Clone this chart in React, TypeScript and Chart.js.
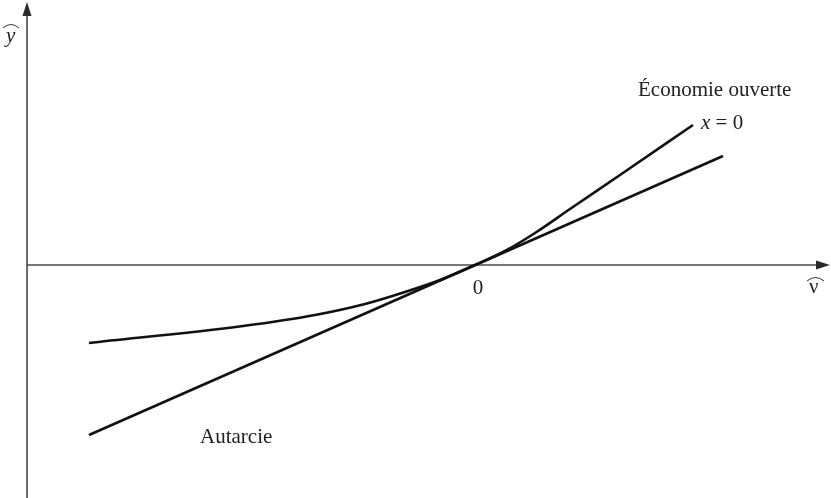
import React, { useEffect, useRef } from "react";
import { Chart, registerables } from "chart.js";

Chart.register(...registerables);

// Data in diagram units (origin at the intersection "0")
const autarcieX = [-386, 248];
const autarcieY = [-170, 109];

const ouverteX = [-386, -232, -160, -110, -70, -35, 0, 30, 60, 95, 145, 218];
const ouverteY = [-78, -61, -50, -39, -27, -15, 0, 14, 32, 56, 90, 140];

const xMin = -475;
const xMax = 356;
const yMin = -233;
const yMax = 265;
const yAxisAtX = -448;

const labelOuverte = "Économie ouverte";
const labelCurve = "x = 0";
const labelAutarcie = "Autarcie";
const labelOrigin = "0";

const W = 831;
const H = 498;

const axesPlugin = {
  id: "axesPlugin",
  beforeDatasetsDraw(chart: any) {
    const ctx = chart.ctx;
    const xs = chart.scales.x;
    const ys = chart.scales.y;
    const ax = xs.getPixelForValue(yAxisAtX);
    const ay = ys.getPixelForValue(0);
    ctx.save();
    ctx.strokeStyle = "#4a4a4a";
    ctx.fillStyle = "#2a2a2a";
    ctx.lineWidth = 1.6;
    ctx.beginPath();
    ctx.moveTo(ax, H);
    ctx.lineTo(ax, 10);
    ctx.stroke();
    ctx.beginPath();
    ctx.moveTo(ax, 2);
    ctx.lineTo(ax - 4.5, 16);
    ctx.lineTo(ax + 4.5, 16);
    ctx.closePath();
    ctx.fill();
    ctx.beginPath();
    ctx.moveTo(ax, ay);
    ctx.lineTo(W - 8, ay);
    ctx.stroke();
    ctx.beginPath();
    ctx.moveTo(W - 1, ay);
    ctx.lineTo(W - 15, ay - 4.5);
    ctx.lineTo(W - 15, ay + 4.5);
    ctx.closePath();
    ctx.fill();
    ctx.restore();
  },
  afterDatasetsDraw(chart: any) {
    const ctx = chart.ctx;
    const xs = chart.scales.x;
    const ys = chart.scales.y;
    const ox = xs.getPixelForValue(0);
    const oy = ys.getPixelForValue(0);
    ctx.save();
    ctx.fillStyle = "#222";
    ctx.textBaseline = "alphabetic";
    ctx.textAlign = "left";
    ctx.font = "21px 'Liberation Serif'";
    ctx.fillText(labelOuverte, 638, 96);
    ctx.fillText(labelAutarcie, 200, 443);
    ctx.textAlign = "center";
    ctx.fillText(labelOrigin, ox + 3, oy + 29);
    ctx.textAlign = "left";
    ctx.font = "italic 21px 'Liberation Serif'";
    ctx.fillText(labelCurve.slice(0, 1), 701, 129);
    const wx = ctx.measureText(labelCurve.slice(0, 1)).width;
    ctx.font = "21px 'Liberation Serif'";
    ctx.fillText(labelCurve.slice(1), 701 + wx, 129);
    // y hat
    ctx.font = "italic 21px 'Liberation Serif'";
    ctx.fillText("y", 6, 42);
    ctx.strokeStyle = "#333";
    ctx.lineWidth = 1;
    ctx.beginPath();
    ctx.moveTo(3, 28);
    ctx.quadraticCurveTo(11, 21, 19, 28);
    ctx.stroke();
    // nu hat
    ctx.font = "21px 'Liberation Serif'";
    ctx.fillText("ν", 809, 293);
    ctx.beginPath();
    ctx.moveTo(807, 281);
    ctx.quadraticCurveTo(815.5, 274, 824, 281);
    ctx.stroke();
    ctx.restore();
  },
};

export default function App() {
  const ref = useRef<HTMLCanvasElement>(null);
  useEffect(() => {
    if (!ref.current) return;
    const chart = new Chart(ref.current, {
      type: "scatter",
      data: {
        datasets: [
          {
            label: labelAutarcie,
            data: autarcieX.map((x, i) => ({ x, y: autarcieY[i] })),
            showLine: true,
            borderColor: "#111",
            borderWidth: 2.6,
            pointRadius: 0,
            fill: false,
          },
          {
            label: labelOuverte,
            data: ouverteX.map((x, i) => ({ x, y: ouverteY[i] })),
            showLine: true,
            borderColor: "#111",
            borderWidth: 2.6,
            pointRadius: 0,
            cubicInterpolationMode: "monotone",
            fill: false,
          },
        ],
      },
      options: {
        responsive: false,
        animation: false,
        devicePixelRatio: 1,
        layout: { padding: 0 },
        plugins: { legend: { display: false }, tooltip: { enabled: false } },
        scales: {
          x: { type: "linear", min: xMin, max: xMax, display: false },
          y: { type: "linear", min: yMin, max: yMax, display: false },
        },
      },
      plugins: [axesPlugin],
    } as any);
    return () => chart.destroy();
  }, []);
  return (
    <div style={{ position: "absolute", left: 0, top: 0, width: W, height: H, background: "#fff" }}>
      <canvas ref={ref} width={W} height={H} style={{ width: W, height: H, display: "block" }} />
    </div>
  );
}
